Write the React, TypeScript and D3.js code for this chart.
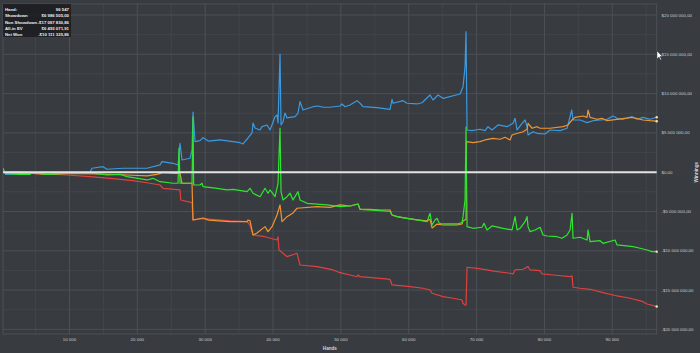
import React, { useEffect, useRef } from 'react';
import * as d3 from 'd3';

// [hand, winnings in $ millions]
type Pt = [number, number];

const showdown: Pt[] = [
  [500, -0.27], [4180, -0.14], [13024, -0.01], [13318, 0.5], [14940, 0.7], [15530, 0.37], [17888, 0.5],
  [21426, 0.5], [23342, 0.92], [23637, 1.34], [25258, 1.13], [25995, 0.92], [26290, 3.68], [26584, 1.55],
  [27764, 1.77], [28059, 2.82], [28206, 7.66], [28501, 3.88], [29238, 4.01], [29680, 4.4], [30500, 3.95],
  [32186, 4.1], [34102, 3.88], [35134, 3.75], [35576, 3.59], [36313, 4.35], [36903, 4.99], [37050, 6.26],
  [37345, 5.62], [38082, 5.37], [38377, 5.79], [39114, 6.01], [39556, 5.37], [40294, 7.06], [40588, 7.28],
  [40735, 6.26], [41030, 15.04], [41177, 6.01], [41472, 6.42], [41767, 7.53], [42062, 6.9], [43242, 7.06],
  [43683, 7.53], [43978, 8.97], [44420, 7.91], [45894, 8.33], [46631, 8.42], [47368, 8.26], [48400, 8.26],
  [49874, 8.42], [50169, 8.68], [50611, 8.33], [51348, 8.55], [52380, 9.1], [52822, 8.77], [53264, 8.33],
  [55328, 8.21], [57244, 8.0], [57539, 9.27], [57686, 8.77], [59160, 9.1], [59750, 8.77], [61224, 8.68],
  [61961, 8.84], [63140, 9.82], [63582, 9.19], [64319, 9.82], [65056, 9.4], [67562, 9.95], [68004, 10.88],
  [68299, 13.42], [68446, 17.88], [68594, 5.37], [69287, 5.28], [70510, 5.46], [71247, 5.28], [71689, 5.79],
  [72279, 5.37], [73163, 6.01], [74490, 5.79], [75374, 6.22], [75669, 6.86], [75964, 5.37], [76701, 6.22],
  [77143, 6.64], [77438, 5.79], [77585, 4.73], [78322, 5.15], [78912, 4.95], [80091, 4.86], [80828, 5.37],
  [82302, 5.28], [83334, 5.59], [83776, 7.06], [84026, 7.91], [84218, 6.64], [85250, 6.64], [86282, 6.3],
  [87166, 6.55], [88198, 6.64], [89230, 6.73], [90114, 7.15], [90704, 6.86], [91588, 6.73], [92915, 7.06],
  [93652, 6.73], [94536, 6.98], [95568, 6.73], [96547, 6.99],
];

const nonShowdown: Pt[] = [
  [500, 0.06], [2706, 0.06], [4622, -0.14], [9634, -0.36], [13024, -0.57], [15972, -0.78], [19362, -1.08],
  [21868, -1.41], [23342, -1.63], [23784, -2.05], [26290, -2.26], [26400, -3.54], [28059, -3.88],
  [28206, -6.08], [29680, -5.9], [33660, -6.2], [36166, -6.3], [36608, -6.72], [37050, -7.99], [38819, -8.21],
  [40588, -8.63], [40735, -8.24], [40882, -9.9], [42062, -10.75], [43536, -10.32], [43978, -11.81],
  [46484, -12.02], [48842, -12.44], [49874, -12.79], [51348, -13.08], [52380, -13.3], [52527, -13.08],
  [52822, -13.3], [55770, -13.5], [57244, -13.63], [57539, -14.35], [60192, -14.57], [62108, -14.77],
  [63140, -14.99], [63435, -15.41], [65056, -15.84], [66530, -16.04], [67857, -16.26], [68004, -16.68],
  [68299, -16.9], [68446, -16.9], [68594, -12.1], [70068, -12.23], [71542, -12.44], [72500, -12.6],
  [74932, -12.86], [75374, -12.95], [75669, -12.44], [76848, -12.35], [77585, -12.02], [77880, -12.44],
  [79354, -12.53], [79649, -12.95], [81270, -13.08], [83776, -13.3], [84071, -13.2], [84218, -14.64],
  [85250, -14.77], [86724, -14.9], [88640, -15.33], [90704, -15.75], [92620, -16.04], [94536, -16.48],
  [95126, -16.77], [96547, -17.1],
];

const allInEV: Pt[] = [
  [500, -0.14], [4622, -0.14], [6686, -0.27], [9634, -0.14], [14498, -0.23], [18478, -0.36], [21426, -0.48],
  [22900, -0.27], [23784, -0.06], [25258, -0.14], [26290, -0.14], [26584, -1.41], [28059, -1.41],
  [28206, -6.08], [29680, -5.83], [30500, -6.1], [33660, -6.3], [36166, -6.3], [36313, -6.08], [36608, -6.2],
  [37050, -7.99], [37640, -7.74], [38819, -6.93], [39261, -7.57], [39851, -6.93], [40588, -5.45],
  [41030, -4.17], [41325, -6.3], [42062, -5.66], [42946, -5.19], [43536, -4.59], [46484, -4.39],
  [48400, -4.47], [49874, -4.17], [51348, -4.3], [52527, -4.05], [52822, -4.72], [54296, -4.72],
  [55770, -4.81], [57244, -4.81], [57539, -5.45], [58276, -5.66], [59750, -5.87], [61224, -6.08],
  [62698, -6.2], [63140, -6.0], [63435, -7.1], [64172, -6.6], [65056, -6.72], [67120, -6.72], [67857, -6.59],
  [68004, -6.2], [68446, -6.0], [68520, 3.88], [69478, 3.75], [70510, 3.88], [71247, 4.1], [72426, 4.31],
  [73458, 4.19], [74195, 4.44], [74932, 4.1], [75227, 4.73], [75669, 4.86], [76848, 5.15], [77438, 5.46],
  [77585, 6.22], [78175, 5.59], [78912, 5.79], [79354, 5.59], [80828, 5.59], [82744, 5.79], [83481, 6.01],
  [84071, 6.64], [84513, 6.98], [85692, 7.15], [86282, 6.98], [86429, 7.91], [86724, 6.98], [87756, 6.73],
  [88493, 6.86], [89230, 6.55], [90704, 6.73], [92915, 6.98], [94536, 6.64], [95568, 6.55], [96547, 6.49],
];

const netWon: Pt[] = [
  [200, 0.5], [500, -0.14], [2706, -0.27], [4180, -0.27], [4622, -0.06], [6686, -0.27], [9634, -0.14],
  [13700, -0.14], [15530, -0.36], [17446, -0.27], [18478, -0.57], [21426, -0.99], [22310, -0.78],
  [23342, -1.21], [25258, -1.41], [25995, -1.41], [26142, 3.08], [26290, -1.41], [28059, -1.41],
  [28206, 7.0], [28300, -1.63], [29238, -1.63], [29533, -1.41], [29680, -1.84], [31744, -2.05],
  [33218, -2.26], [34102, -2.18], [36166, -2.48], [36608, -2.05], [37050, -2.68], [38082, -3.12],
  [38819, -2.05], [39261, -2.68], [39556, -2.26], [40294, -3.12], [40735, -1.41], [41030, 5.62],
  [41177, -2.48], [41472, -3.54], [42062, -3.12], [42504, -2.68], [42946, -3.54], [43683, -2.48],
  [43978, -3.54], [45010, -3.96], [47958, -4.17], [49874, -4.39], [51348, -4.3], [52527, -4.05],
  [52822, -4.72], [55770, -4.9], [57244, -5.0], [57539, -5.45], [58276, -5.66], [59750, -5.87],
  [61224, -6.08], [62698, -6.3], [63140, -5.23], [63435, -6.72], [63877, -6.08], [64172, -5.87],
  [64500, -6.5], [65056, -6.59], [67120, -6.59], [67857, -6.42], [68004, -5.66], [68299, -3.54],
  [68446, 5.75], [68594, -6.93], [69478, -7.14], [70805, -7.01], [71099, -6.5], [71542, -7.35],
  [72279, -6.84], [73900, -7.14], [75227, -7.35], [75669, -5.66], [75964, -7.35], [76406, -7.14],
  [77143, -6.3], [77438, -5.66], [77585, -6.93], [77880, -7.57], [78617, -7.35], [79354, -7.01],
  [79796, -7.99], [80386, -8.12], [81860, -8.21], [82597, -8.41], [83334, -7.99], [83776, -7.35],
  [84071, -5.23], [84218, -8.41], [85250, -8.28], [86282, -8.63], [86429, -7.35], [86724, -8.84],
  [88198, -8.72], [88640, -9.05], [90409, -8.63], [90704, -9.26], [93062, -9.48], [94094, -9.68],
  [95126, -9.9], [95863, -10.11], [96547, -10.11],
];

const xTicks = [10000, 20000, 30000, 40000, 50000, 60000, 70000, 80000, 90000];
const xTickLabels = ['10 000', '20 000', '30 000', '40 000', '50 000', '60 000', '70 000', '80 000', '90 000'];
const yTicks = [20, 15, 10, 5, 0, -5, -10, -15, -20];
const yTickLabels = [
  '$20 000 000,00', '$15 000 000,00', '$10 000 000,00', '$5 000 000,00', '$0,00',
  '-$5 000 000,00', '-$10 000 000,00', '-$15 000 000,00', '-$20 000 000,00',
];
const legendLabels = ['Hand:', 'Showdown', 'Non Showdown', 'All-in EV', 'Net Won'];
const legendValues = ['96 547', '$6 986 505,00', '-$17 097 830,86', '$6 493 071,91', '-$10 111 325,86'];

const W = 700;
const H = 353;
const FONT = '"Liberation Sans", Arial, sans-serif';

const Chart: React.FC = () => {
  const svgRef = useRef<SVGSVGElement>(null);

  useEffect(() => {
    if (!svgRef.current) return;
    const svg = d3.select(svgRef.current);
    svg.selectAll('*').remove();

    const left = 3, right = 656.7, top = 4, bottom = 334;
    const x = d3.scaleLinear().domain([200, 96547]).range([left, right]);
    const y = d3.scaleLinear().domain([-20.59, 21.4]).range([bottom, top]);

    svg.append('rect').attr('width', W).attr('height', H).attr('fill', '#383b40');

    // minor grid
    const g = svg.append('g');
    g.selectAll('.vmin')
      .data(d3.range(5000, 96547, 10000))
      .enter().append('line')
      .attr('x1', d => x(d)).attr('x2', d => x(d))
      .attr('y1', top).attr('y2', bottom)
      .attr('stroke', '#42454b').attr('stroke-width', 1);
    g.selectAll('.hmin')
      .data(d3.range(-17.5, 21, 5))
      .enter().append('line')
      .attr('x1', left).attr('x2', right)
      .attr('y1', d => y(d)).attr('y2', d => y(d))
      .attr('stroke', '#42454b').attr('stroke-width', 1);
    // major grid
    g.selectAll('.vmaj')
      .data(xTicks)
      .enter().append('line')
      .attr('x1', d => x(d)).attr('x2', d => x(d))
      .attr('y1', top).attr('y2', bottom)
      .attr('stroke', '#4d5056').attr('stroke-width', 1);
    g.selectAll('.hmaj')
      .data(yTicks)
      .enter().append('line')
      .attr('x1', left).attr('x2', right)
      .attr('y1', d => y(d)).attr('y2', d => y(d))
      .attr('stroke', '#4d5056').attr('stroke-width', 1);
    svg.append('rect')
      .attr('x', left).attr('y', top)
      .attr('width', right - left).attr('height', bottom - top)
      .attr('fill', 'none').attr('stroke', '#4d5056');

    svg.append('clipPath').attr('id', 'plot-clip')
      .append('rect').attr('x', left).attr('y', top)
      .attr('width', right - left + 2).attr('height', bottom - top);

    const line = d3.line<Pt>().x(d => x(d[0])).y(d => y(d[1]));
    const series: [Pt[], string][] = [
      [showdown, '#3b9ae0'],
      [nonShowdown, '#e0413f'],
      [allInEV, '#f0952e'],
      [netWon, '#2ee62e'],
    ];
    const lines = svg.append('g').attr('clip-path', 'url(#plot-clip)');
    series.forEach(([data, color]) => {
      lines.append('path')
        .datum(data)
        .attr('d', line)
        .attr('fill', 'none')
        .attr('stroke', color)
        .attr('stroke-width', 1.2)
        .attr('stroke-linejoin', 'round');
    });

    // zero line
    svg.append('line')
      .attr('x1', left).attr('x2', right)
      .attr('y1', y(0)).attr('y2', y(0))
      .attr('stroke', '#e2e2e2').attr('stroke-width', 2);

    // end markers
    series.forEach(([data]) => {
      const last = data[data.length - 1];
      svg.append('circle')
        .attr('cx', x(last[0])).attr('cy', y(last[1]))
        .attr('r', 1.2).attr('fill', '#f3e7a8');
    });

    // axes labels
    svg.selectAll('.xt')
      .data(xTicks)
      .enter().append('text')
      .attr('x', d => x(d)).attr('y', 341)
      .attr('text-anchor', 'middle')
      .attr('font-family', FONT).attr('font-size', 4.4)
      .attr('fill', '#c9cbcf')
      .text((_, i) => xTickLabels[i]);
    svg.selectAll('.yt')
      .data(yTicks)
      .enter().append('text')
      .attr('x', 661.5).attr('y', d => y(d) + 1.6)
      .attr('font-family', FONT).attr('font-size', 4.4)
      .attr('fill', '#c9cbcf')
      .text((_, i) => yTickLabels[i]);

    svg.append('text')
      .attr('x', (left + right) / 2).attr('y', 350)
      .attr('text-anchor', 'middle')
      .attr('font-family', FONT).attr('font-size', 4.6).attr('font-weight', 'bold')
      .attr('fill', '#d6d8dc')
      .text('Hands');
    svg.append('text')
      .attr('transform', `translate(698, ${y(0)}) rotate(-90)`)
      .attr('text-anchor', 'middle')
      .attr('font-family', FONT).attr('font-size', 4.6).attr('font-weight', 'bold')
      .attr('fill', '#d6d8dc')
      .text('Winnings');

    // legend box
    svg.append('rect')
      .attr('x', 3).attr('y', 4).attr('width', 68).attr('height', 33)
      .attr('fill', '#1d1e21').attr('opacity', 0.9);
    legendLabels.forEach((lab, i) => {
      const yy = 11.3 + i * 6.1;
      svg.append('text')
        .attr('x', 5).attr('y', yy)
        .attr('font-family', FONT).attr('font-size', 4.3).attr('font-weight', 'bold')
        .attr('fill', '#eeeeee')
        .text(lab);
      svg.append('text')
        .attr('x', 69).attr('y', yy)
        .attr('text-anchor', 'end')
        .attr('font-family', FONT).attr('font-size', 4.3).attr('font-weight', 'bold')
        .attr('fill', '#eeeeee')
        .text(legendValues[i]);
    });

    // mouse pointer left in the screenshot
    svg.append('path')
      .attr('d', 'M657,51 L657,59 L659,57 L660.5,60 L661.5,59.5 L660,56.5 L662.5,56.5 Z')
      .attr('fill', '#ffffff').attr('stroke', '#222').attr('stroke-width', 0.4);
  }, []);

  return (
    <svg
      ref={svgRef}
      width={W}
      height={H}
      style={{ position: 'absolute', left: 0, top: 0, display: 'block' }}
    />
  );
};

export default function App() {
  return <Chart />;
}
